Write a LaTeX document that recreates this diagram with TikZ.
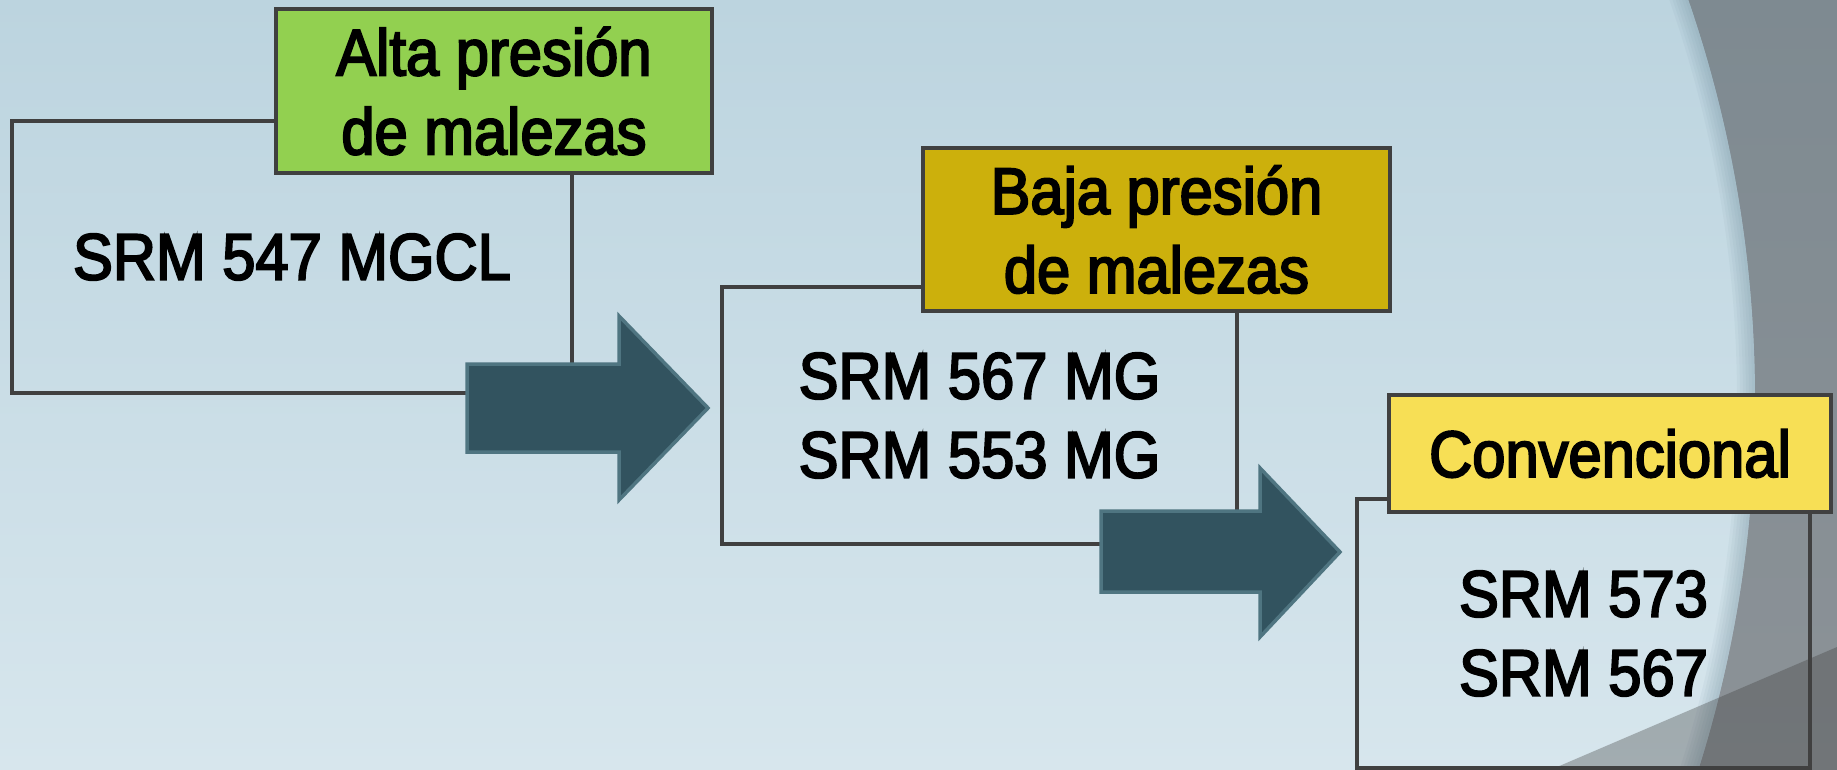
\documentclass[tikz,border=0pt]{standalone}
\usepackage{fontspec}
\setmainfont[FakeStretch=0.91,FakeBold=3]{Liberation Sans}
\definecolor{bgtop}{HTML}{BCD4DF}
\definecolor{bgbot}{HTML}{D7E6ED}
\definecolor{greytop}{HTML}{7E8A91}
\definecolor{greybot}{HTML}{8C9297}
\definecolor{edgeblue}{HTML}{6F8D9B}
\definecolor{boxline}{HTML}{404040}
\definecolor{lgreen}{HTML}{92D050}
\definecolor{lgold}{HTML}{CCB00C}
\definecolor{lyellow}{HTML}{F7DF55}
\definecolor{arrowfill}{HTML}{32535F}
\definecolor{arrowline}{HTML}{4F7581}
\begin{document}
\begin{tikzpicture}[x=1pt,y=-1pt,
  every node/.style={font=\fontsize{65.6}{79}\selectfont, text=black, inner sep=0pt, outer sep=0pt},
  itembox/.style={draw=boxline, line width=3.5pt, align=center},
  tagbox/.style={draw=boxline, line width=4.5pt, align=center},
  blockarrow/.style={fill=arrowfill, draw=arrowline, line width=3.5pt, line join=miter}]

\useasboundingbox (0,0) rectangle (1837,770);
% background
\shade[top color=greytop, bottom color=greybot] (0,0) rectangle (1837,770);
\begin{scope}
  \clip (527.5,400) circle[radius=1227.5pt];
  \shade[top color=bgtop, bottom color=bgbot] (0,0) rectangle (1837,770);
  \foreach \w in {6,12,18,24,30,36}
    \draw[line width=\w pt, edgeblue, draw opacity=0.07] (527.5,400) circle[radius=1227.5pt];
\end{scope}
\fill[black!75, opacity=0.35] (1550,770) -- (1837,647) -- (1837,770) -- cycle;

% step 1
\node[itembox, minimum width=560pt, minimum height=272pt] (b1) at (292,257) {SRM 547 MGCL};
\node[tagbox, fill=lgreen, minimum width=436pt, minimum height=164pt] (t1) at (494,91) {Alta presión\\de malezas};
\draw[blockarrow] (467,364) -- (619,364) -- (619,316) -- (708,408) -- (619,500) -- (619,452) -- (467,452) -- cycle;

% step 2
\node[itembox, minimum width=515pt, minimum height=257pt] (b2) at (979.5,415.5) {SRM 567 MG\\SRM 553 MG};
\node[tagbox, fill=lgold, minimum width=467pt, minimum height=163pt] (t2) at (1156.5,229.5) {Baja presión\\de malezas};
\draw[blockarrow] (1101,511) -- (1260,511) -- (1260,468) -- (1340,552) -- (1260,637) -- (1260,592) -- (1101,592) -- cycle;

% step 3
\node[itembox, minimum width=453pt, minimum height=269pt] (b3) at (1583.5,633.5) {SRM 573\\SRM 567};
\node[tagbox, fill=lyellow, minimum width=442pt, minimum height=117pt] (t3) at (1610,453.5) {Convencional};
\end{tikzpicture}
\end{document}
